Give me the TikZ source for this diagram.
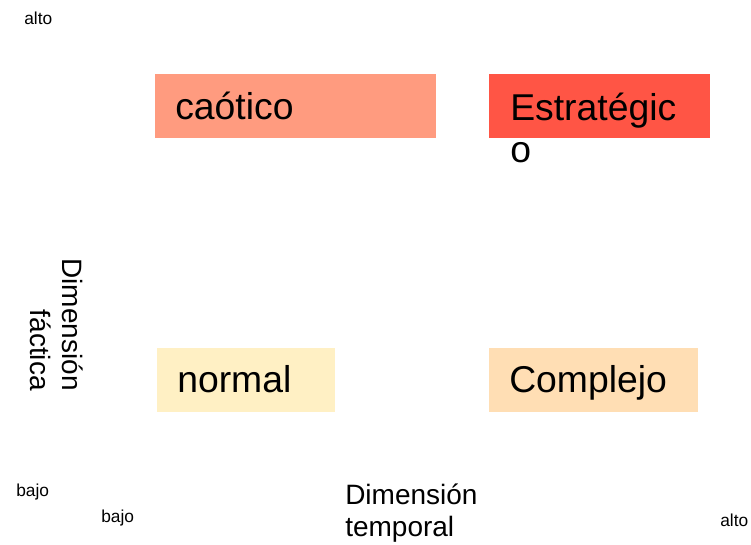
\documentclass[tikz,border=0pt]{standalone}
\usepackage{fontspec}
\setmainfont{Liberation Sans}
\definecolor{cchaos}{HTML}{FF9B7F}
\definecolor{cstrat}{HTML}{FF5545}
\definecolor{cnorm}{HTML}{FFF0C4}
\definecolor{ccomp}{HTML}{FFDEB4}
\begin{document}
\begin{tikzpicture}[x=0.75pt,y=-0.75pt,
  boxtext/.style={inner sep=0pt,anchor=base west,font=\fontsize{28}{32}\selectfont,align=left},
  small/.style={inner sep=0pt,anchor=base west,font=\fontsize{13}{15}\selectfont},
  axis/.style={inner sep=0pt,font=\fontsize{21}{24}\selectfont}]
\useasboundingbox (0,0) rectangle (751,545);
\fill[cchaos] (155,74) rectangle (436,138);
\fill[cstrat] (489,74) rectangle (710,138);
\fill[cnorm] (157,348) rectangle (335,412);
\fill[ccomp] (489,348) rectangle (698,412);
\node[boxtext] (caot) at (175,120) {caótico};
\node[boxtext] (estr) at (510,163) {Estratégic\\o};
\node[boxtext] (norm) at (177,393) {normal};
\node[boxtext] (comp) at (509,393) {Complejo};
\node[small] (altoA) at (24,25) {alto};
\node[small] (bajoA) at (16,497) {bajo};
\node[small] (bajoB) at (101,523) {bajo};
\node[small] (altoB) at (720,527) {alto};
\node[axis,anchor=base west,align=left] (temp) at (345,537) {Dimensión\\temporal};
\node[axis,rotate=-90,anchor=north east,align=right] (fact) at (83,391) {Dimensión\\fáctica};
\end{tikzpicture}
\end{document}
